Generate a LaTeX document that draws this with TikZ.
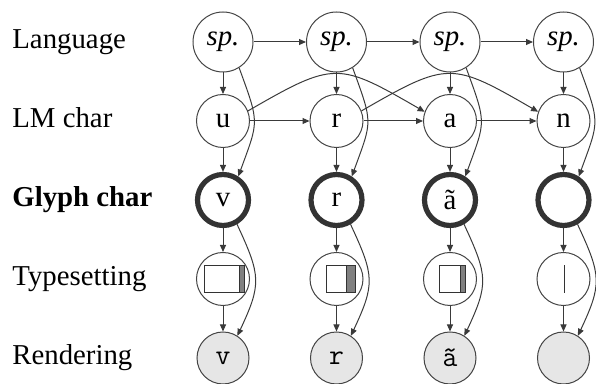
\documentclass[tikz,border=0pt]{standalone}
\usepackage{fontspec}
\setmainfont{Liberation Serif}
\usetikzlibrary{arrows.meta}
\definecolor{edgec}{HTML}{444444}
\definecolor{thickc}{HTML}{333333}
\definecolor{arrc}{HTML}{3A3A3A}
\definecolor{rendfill}{HTML}{E6E6E6}
\definecolor{stripc}{HTML}{808080}
\begin{document}
\begin{tikzpicture}[x=0.5pt,y=0.5pt,
  every node/.style={font=\fontsize{14.4}{17}\selectfont},
  base/.style={circle, draw=edgec, line width=0.5pt, inner sep=0pt},
  spnode/.style={base, minimum size=30pt},
  lmnode/.style={base, minimum size=26.5pt},
  glnode/.style={circle, draw=thickc, line width=2.6pt, minimum size=25.5pt, inner sep=0pt},
  tsnode/.style={base, minimum size=26.5pt},
  rdnode/.style={base, minimum size=26pt, fill=rendfill},
  lbl/.style={anchor=base west, inner sep=0pt},
  arr/.style={draw=arrc, line width=0.5pt, -{Triangle[length=3.5pt,width=3pt]}},
  icon/.style={draw=thickc, line width=0.5pt},
]
\useasboundingbox (0,0) rectangle (596,384);

% row labels
\node[lbl] (lang) at (12,335) {Language};
\node[lbl] (lmc) at (12,256) {LM char};
\node[lbl] (glc) at (12,177) {\bfseries Glyph char};
\node[lbl] (tsc) at (12,98) {Typesetting};
\node[lbl] (rdc) at (12,19) {Rendering};

% columns
\foreach \i/\x in {1/223,2/336.5,3/450,4/563.5}{
  \node[spnode] (s\i) at (\x,342) {\textit{sp.}};
  \node[tsnode] (t\i) at (\x,105) {};
}
\node[lmnode] (l1) at (223,263) {u};
\node[lmnode] (l2) at (336.5,263) {r};
\node[lmnode] (l3) at (450,263) {a};
\node[lmnode] (l4) at (563.5,263) {n};

\node[glnode] (g1) at (223,184) {v};
\node[glnode] (g2) at (336.5,184) {r};
\node[glnode] (g3) at (450,184) {ã};
\node[glnode] (g4) at (563.5,184) {};

\node[rdnode] (r1) at (223,26) {\texttt{v}};
\node[rdnode] (r2) at (336.5,26) {\texttt{r}};
\node[rdnode] (r3) at (450,26) {\texttt{ã}};
\node[rdnode] (r4) at (563.5,26) {};

% typesetting icons
\begin{scope}[shift={(t1.center)}]
  \draw[icon, fill=stripc] (16,-14) rectangle (21.3,13.7);
  \draw[icon, fill=white] (-18.3,-14) rectangle (16,13.7);
\end{scope}
\begin{scope}[shift={(t2.center)}]
  \draw[icon, fill=stripc] (9.5,-14) rectangle (18.5,13.7);
  \draw[icon, fill=white] (-9.8,-14) rectangle (9.5,13.7);
\end{scope}
\begin{scope}[shift={(t3.center)}]
  \draw[icon, fill=stripc] (10,-14) rectangle (15.7,13.7);
  \draw[icon, fill=white] (-10.7,-14) rectangle (10,13.7);
\end{scope}
\begin{scope}[shift={(t4.center)}]
  \draw[icon] (0.5,-14) -- (0.5,14);
\end{scope}

% horizontal edges
\draw[arr] (s1) -- (s2);
\draw[arr] (s2) -- (s3);
\draw[arr] (s3) -- (s4);
\draw[arr] (l1) -- (l2);
\draw[arr] (l2) -- (l3);
\draw[arr] (l3) -- (l4);
\draw[arr] (l1.22) .. controls +(30:100) and +(150:100) .. (l3.160);
\draw[arr] (l2.22) .. controls +(30:100) and +(150:100) .. (l4.160);

% vertical edges
\foreach \i in {1,2,3,4}{
  \draw[arr] (s\i) -- (l\i);
  \draw[arr] (l\i) -- (g\i);
  \draw[arr] (g\i) -- (t\i);
  \draw[arr] (t\i) -- (r\i);
  \draw[arr] (s\i.-58) .. controls +(-70:60) and +(70:60) .. (g\i.57);
  \draw[arr] (g\i.-60) .. controls +(-65:57) and +(65:57) .. (r\i.57);
}
\end{tikzpicture}
\end{document}
